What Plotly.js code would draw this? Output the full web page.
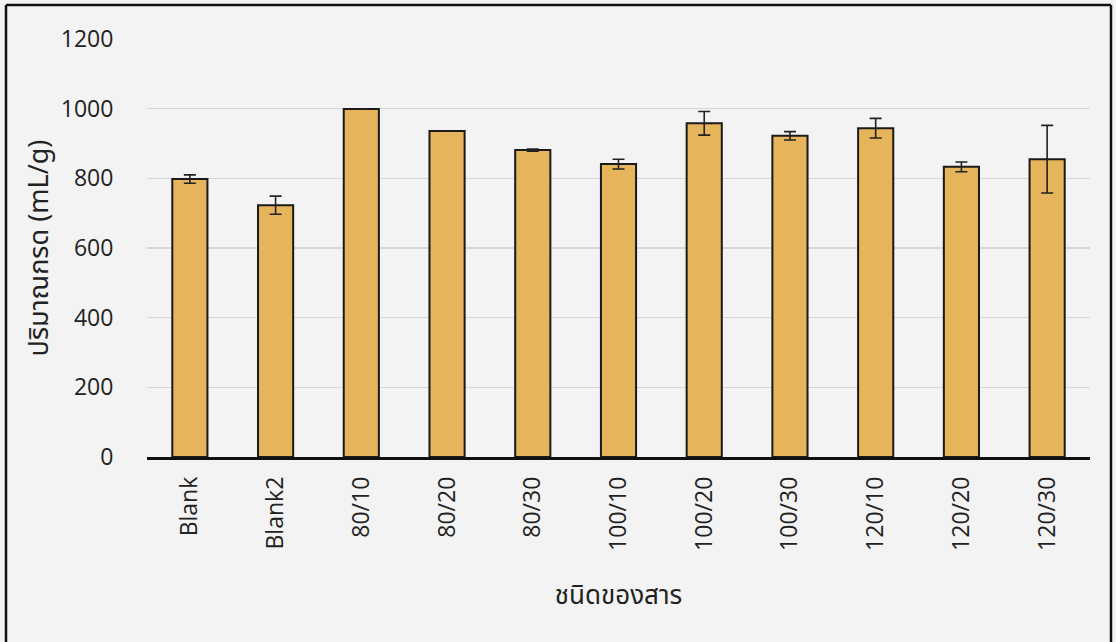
<!DOCTYPE html>
<html>
<head>
<meta charset="utf-8">
<script src="https://cdn.plot.ly/plotly-3.0.1.min.js"></script>
<style>
  html, body { margin: 0; padding: 0; background: #f3f3f3; }
  #chart { width: 1116px; height: 642px; }
</style>
</head>
<body>
<div id="chart"></div>
<script>
const categories = ["Blank", "Blank2", "80/10", "80/20", "80/30", "100/10", "100/20", "100/30", "120/10", "120/20", "120/30"];
const acidValues = [798, 723, 999, 936, 881, 841, 958, 922, 944, 833, 855];
const acidErrors = [12, 26, 0, 0, 3, 14, 34, 12, 28, 14, 97];
const yTickValues = [0, 200, 400, 600, 800, 1000, 1200];

const W = 1116, H = 642;
const M = { l: 147, r: 26, t: 39, b: 185 };
const pw = W - M.l - M.r, ph = H - M.t - M.b;
const px = v => (v - M.l) / pw;
const py = v => (H - M.b - v) / ph;

const trace = {
  type: "bar",
  x: categories,
  y: acidValues,
  marker: { color: "#e5b45b", line: { color: "#1a1a1a", width: 2 } },
  error_y: { type: "data", array: acidErrors, visible: true, color: "#222", thickness: 1.6, width: 6 },
  hoverinfo: "x+y"
};

const layout = {
  width: W, height: H,
  margin: M,
  paper_bgcolor: "#f3f3f3",
  plot_bgcolor: "#f3f3f3",
  bargap: 0.59,
  showlegend: false,
  font: { family: "Open Sans, Noto Sans, sans-serif", color: "#222" },
  xaxis: {
    type: "category",
    tickangle: -90,
    tickfont: { size: 23, family: "Open Sans, Noto Sans, sans-serif", color: "#222" },
    ticklabelstandoff: 8,
    showline: true, linecolor: "#111", linewidth: 2.5,
    ticks: "", showgrid: false, zeroline: false,
    title: { text: "ชนิดของสาร", font: { size: 26, family: "Noto Sans Thai, Noto Sans, sans-serif", color: "#222" }, standoff: 36 }
  },
  yaxis: {
    range: [0, 1200],
    tickvals: yTickValues,
    ticktext: yTickValues.map(String),
    tickfont: { size: 23, family: "Open Sans, Noto Sans, sans-serif", color: "#222" },
    showgrid: true, gridcolor: "#d6d6d6", gridwidth: 1.5,
    showline: false, zeroline: false, ticks: "outside", ticklen: 28, tickcolor: "rgba(0,0,0,0)",
    title: { text: "ปริมาณกรด (mL/g)", font: { size: 27, family: "Noto Sans Thai, Noto Sans, sans-serif", color: "#222" }, standoff: 4 }
  },
  shapes: [
    { type: "line", xref: "paper", yref: "paper", x0: px(6), x1: px(6), y0: py(5), y1: py(660), line: { color: "#111", width: 2.5 } },
    { type: "line", xref: "paper", yref: "paper", x0: px(6), x1: px(1111), y0: py(5), y1: py(5), line: { color: "#111", width: 2.5 } },
    { type: "line", xref: "paper", yref: "paper", x0: px(1111), x1: px(1111), y0: py(5), y1: py(660), line: { color: "#111", width: 2.5 } }
  ]
};

Plotly.newPlot("chart", [trace], layout, { displayModeBar: false, staticPlot: true });
</script>
</body>
</html>
